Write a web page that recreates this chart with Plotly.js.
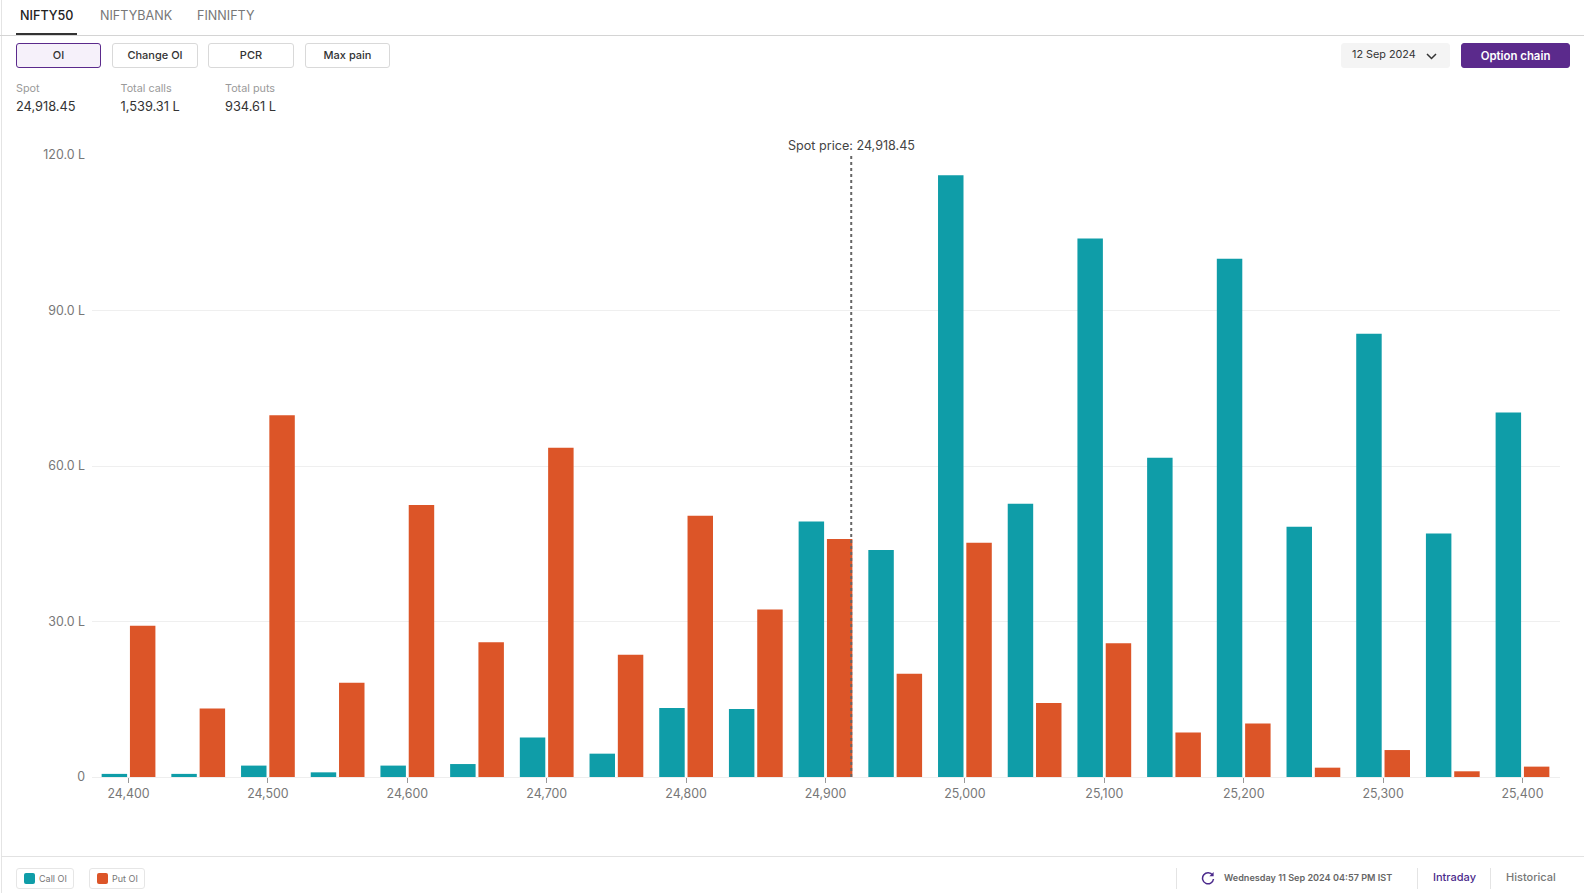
<!DOCTYPE html>
<html>
<head>
<meta charset="utf-8">
<script src="https://cdn.plot.ly/plotly-3.0.1.min.js"></script>
<style>
html,body{margin:0;padding:0;background:#fff;width:1584px;height:893px;overflow:hidden;font-family:Inter,sans-serif;}
#chart{position:absolute;left:0;top:0;width:1584px;height:893px;}
.t{position:absolute;white-space:nowrap;line-height:1;}
.box{position:absolute;box-sizing:border-box;top:43px;height:25px;padding-bottom:2px;border:1px solid #d9d9d9;border-radius:3px;background:#fff;font-size:11px;font-weight:500;color:#333;display:flex;align-items:center;justify-content:center;}
.rule{position:absolute;background:#dedede;}
.chip{position:absolute;top:868px;height:21px;box-sizing:border-box;border:1px solid #e6e6e6;border-radius:3px;font-size:9px;color:#777;display:flex;align-items:center;padding-left:7px;}
.chip i{display:inline-block;width:11px;height:11px;border-radius:2px;margin-right:4px;}
</style>
</head>
<body>
<div id="chart"></div>
<div class="rule" style="left:1px;top:0;width:1px;height:893px;background:#e4e4e4"></div>
<div class="rule" style="left:0;top:35px;width:1584px;height:1px;background:#d4d4d4"></div>
<div class="rule" style="left:16px;top:33px;width:61px;height:2px;background:#333"></div>
<div class="t" style="left:20px;top:10px;font-size:12.6px;font-weight:500;color:#222">NIFTY50</div>
<div class="t" style="left:100px;top:10px;font-size:12.6px;color:#777">NIFTYBANK</div>
<div class="t" style="left:197px;top:10px;font-size:12.6px;color:#777">FINNIFTY</div>
<div class="box" style="left:16px;width:85px;border-color:#5b2a8c;background:#f6f1fa">OI</div>
<div class="box" style="left:112px;width:86px">Change OI</div>
<div class="box" style="left:208px;width:86px">PCR</div>
<div class="box" style="left:305px;width:85px">Max pain</div>
<div class="t" style="left:16px;top:84px;font-size:10.8px;color:#9a9a9a">Spot</div>
<div class="t" style="left:120.5px;top:84px;font-size:10.8px;color:#9a9a9a">Total calls</div>
<div class="t" style="left:225px;top:84px;font-size:10.8px;color:#9a9a9a">Total puts</div>
<div class="t" style="left:16px;top:101px;font-size:12.8px;color:#333">24,918.45</div>
<div class="t" style="left:120.5px;top:101px;font-size:12.8px;color:#333">1,539.31 L</div>
<div class="t" style="left:225px;top:101px;font-size:12.8px;color:#333">934.61 L</div>
<div class="box" style="left:1341px;width:109px;background:#f4f4f4;border-color:#f4f4f4;font-weight:400;font-size:10.8px;justify-content:flex-start;padding-left:10px">12 Sep 2024
  <svg width="11" height="7" viewBox="0 0 11 7" style="margin-left:10px;margin-top:3px"><path d="M1 1l4.5 4.5L10 1" fill="none" stroke="#333" stroke-width="1.5"/></svg>
</div>
<div class="box" style="left:1461px;width:109px;background:#5b2a8c;border-color:#5b2a8c;color:#fff;font-weight:600;font-size:11.4px;padding-bottom:0">Option chain</div>
<div class="rule" style="left:1px;top:856px;width:1583px;height:1px;background:#e2e2e2"></div>
<div class="chip" style="left:16px;width:58px"><i style="background:#0f9da8"></i>Call OI</div>
<div class="chip" style="left:89px;width:56px"><i style="background:#dc5528"></i>Put OI</div>
<div class="rule" style="left:1176px;top:868px;width:1px;height:21px;background:#e4e4e4"></div>
<svg style="position:absolute;left:1201px;top:871px" width="14" height="14" viewBox="0 0 14 14"><path d="M11.6 4.2A5.5 5.5 0 1 0 12.5 8" fill="none" stroke="#4b2a8c" stroke-width="1.5"/><path d="M12.6 1v4.2H8.4z" fill="#4b2a8c"/></svg>
<div class="t" style="left:1224px;top:873px;font-size:9.1px;font-weight:600;color:#666">Wednesday 11 Sep 2024 04:57 PM IST</div>
<div class="rule" style="left:1417px;top:868px;width:1px;height:21px;background:#e4e4e4"></div>
<div class="t" style="left:1433px;top:872px;font-size:11px;font-weight:500;color:#4b2a8c">Intraday</div>
<div class="rule" style="left:1490px;top:868px;width:1px;height:21px;background:#e4e4e4"></div>
<div class="t" style="left:1506px;top:872px;font-size:11px;font-weight:500;color:#777">Historical</div>
<script>
const strikes = [24400,24450,24500,24550,24600,24650,24700,24750,24800,24850,24900,24950,25000,25050,25100,25150,25200,25250,25300,25350,25400];
const callOI = [0.6,0.6,2.2,0.9,2.2,2.5,7.6,4.5,13.3,13.1,49.3,43.8,116.1,52.7,103.9,61.6,100,48.3,85.5,47,70.3];
const putOI = [29.2,13.2,69.8,18.2,52.5,26,63.5,23.6,50.4,32.3,45.9,19.9,45.2,14.3,25.8,8.6,10.3,1.8,5.2,1.1,2];
const spot = 24918.45;
const xTickVals = [24400,24500,24600,24700,24800,24900,25000,25100,25200,25300,25400];
const xTickText = ['24,400','24,500','24,600','24,700','24,800','24,900','25,000','25,100','25,200','25,300','25,400'];
const yTickVals = [0,30,60,90,120];
const yTickText = ['0','30.0 L','60.0 L','90.0 L','120.0 L'];

Plotly.newPlot('chart', [
  {type:'bar', name:'Call OI', x:strikes, y:callOI, marker:{color:'#0f9da8'}},
  {type:'bar', name:'Put OI', x:strikes, y:putOI, marker:{color:'#dc5528'}}
], {
  width:1584, height:893,
  margin:{l:92,r:24,t:154.5,b:115.5,pad:0},
  paper_bgcolor:'rgba(0,0,0,0)', plot_bgcolor:'rgba(0,0,0,0)',
  showlegend:false, barmode:'group', bargap:0.188, bargroupgap:0.1,
  font:{family:'Inter, sans-serif', size:12.4, color:'#777'},
  xaxis:{type:'linear', range:[24373.8,25426.9], tickmode:'array', tickvals:xTickVals, ticktext:xTickText,
    ticks:'outside', ticklen:5, tickcolor:'#999', tickwidth:1, showgrid:false, zeroline:false,
    showline:true, linecolor:'#eeeeee', linewidth:1, tickfont:{size:12.4,color:'#777'}},
  yaxis:{range:[0,120], tickmode:'array', tickvals:yTickVals, ticktext:yTickText, ticks:'',
    showgrid:true, gridcolor:'#efefef', gridwidth:1, zeroline:false, showline:false,
    ticklabelstandoff:6, tickfont:{size:12.4,color:'#777'}},
  shapes:[{type:'line', xref:'x', yref:'paper', x0:spot, x1:spot, y0:0, y1:1,
    line:{color:'#666', width:2, dash:'dot'}}],
  annotations:[{xref:'x', yref:'paper', x:spot, y:1, yanchor:'bottom', xanchor:'center', yshift:0, showarrow:false,
    text:'Spot price: 24,918.45', font:{family:'Inter, sans-serif', size:12.6, color:'#444'}}]
}, {displayModeBar:false, responsive:false});
</script>
</body>
</html>
